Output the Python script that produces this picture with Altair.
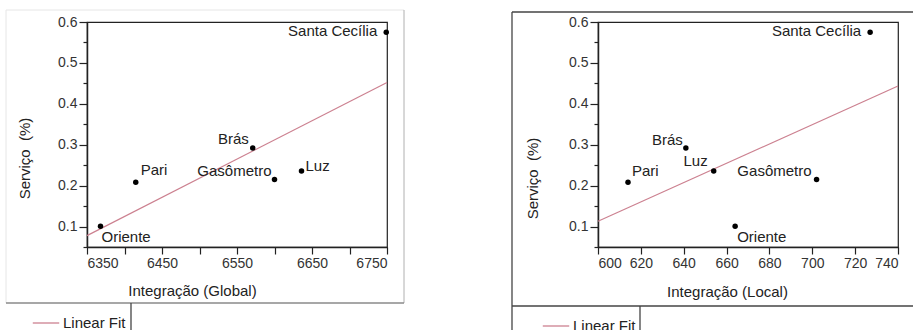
import altair as alt
import pandas as pd

# ---------------- data ----------------
locations = ["Santa Cecília", "Brás", "Pari", "Gasômetro", "Luz", "Oriente"]
servico = [0.575, 0.292, 0.208, 0.215, 0.236, 0.101]
integ_global = [6749, 6571, 6415, 6600, 6636, 6368]
integ_local = [727, 641, 614, 702, 654, 664]

y_tick_values = [0.05, 0.1, 0.15, 0.2, 0.25, 0.3, 0.35, 0.4, 0.45, 0.5, 0.55, 0.6]
x_ticks_global = [6350, 6400, 6450, 6500, 6550, 6600, 6650, 6700, 6750]
x_ticks_local = [600, 620, 640, 660, 680, 700, 720, 740]

df = pd.DataFrame({
    "local": locations,
    "servico": servico,
    "global": integ_global,
    "localint": integ_local,
})

FONT = "Liberation Sans"
TXT = "#222222"
FIT = "#cc8190"

# label placement (style only)
labels_global = {
    "Santa Cecília": ("right", -9, -1),
    "Brás": ("right", -4, -9),
    "Pari": ("left", 5, -12),
    "Gasômetro": ("right", -3, -9),
    "Luz": ("left", 4, -5),
    "Oriente": ("left", 1, 11),
}
labels_local = {
    "Santa Cecília": ("right", -9, -1),
    "Brás": ("right", -3, -8),
    "Pari": ("left", 4, -11),
    "Gasômetro": ("right", -5, -9),
    "Luz": ("right", -6, -10),
    "Oriente": ("left", 2, 11),
}


def frame(x1, x2, y1, y2, color, width=1.0):
    enc = dict(x=alt.value(x1), y=alt.value(y1))
    if x2 is not None:
        enc["x2"] = alt.value(x2)
    if y2 is not None:
        enc["y2"] = alt.value(y2)
    return alt.Chart(alt.Data(values=[{"k": 1}])).mark_rule(
        color=color, strokeWidth=width
    ).encode(**enc)


def panel(xfield, xtitle, xdomain, xvalues, xlabel_expr, labels, xtitle_pos,
          ytitle_pos, legend_pos, frames):
    y_axis = alt.Axis(
        values=y_tick_values,
        labelExpr="abs(datum.value*10 - round(datum.value*10)) < 0.01 ? format(datum.value, '.1f') : ''",
        tickSize={"condition": {"test": "abs(datum.value*10 - round(datum.value*10)) < 0.01", "value": 8}, "value": 4},
        title="Serviço\u00a0\u00a0(%)",
        titleX=ytitle_pos[0], titleY=ytitle_pos[1],
        titleAngle=270, titleAlign="center", titleBaseline="middle",
        grid=False,
    )
    x_axis = alt.Axis(
        values=xvalues,
        format="d",
        labelExpr=xlabel_expr,
        title=xtitle,
        titleX=xtitle_pos[0], titleY=xtitle_pos[1],
        titleAlign="center", titleBaseline="middle",
        tickSize=7, grid=False,
    )
    x = alt.X(f"{xfield}:Q", scale=alt.Scale(domain=xdomain, nice=False, zero=False), axis=x_axis)
    y = alt.Y("servico:Q", scale=alt.Scale(domain=[0.05, 0.6], nice=False, zero=False), axis=y_axis)

    base = alt.Chart(df)
    fit = base.transform_regression(xfield, "servico", extent=xdomain).transform_calculate(
        series="'Linear Fit'"
    ).mark_line(strokeWidth=1.2).encode(
        x=x, y=y,
        color=alt.Color("series:N", scale=alt.Scale(range=[FIT]),
                        legend=alt.Legend(orient="none", legendX=legend_pos[0], legendY=legend_pos[1],
                                          title=None, symbolType="stroke", symbolSize=700,
                                          symbolStrokeWidth=1.3, labelFont=FONT, labelFontSize=15,
                                          labelColor=TXT, labelOffset=3, padding=0)),
    )
    pts = base.mark_circle(size=30, color="black", opacity=1).encode(x=x, y=y)
    layers = [fit, pts]
    for name, (align, dx, dy) in labels.items():
        layers.append(
            base.transform_filter(alt.datum.local == name).mark_text(
                align=align, baseline="middle", dx=dx, dy=dy, font=FONT,
                fontSize=15, color=TXT
            ).encode(x=x, y=y, text="local:N")
        )
    layers += frames
    return alt.layer(*layers).properties(width=300, height=225)


left = panel(
    "global", "Integração (Global)", [6350, 6750], x_ticks_global,
    "datum.value % 100 == 50 ? datum.label : ''",
    labels_global, (105, 43), (-63, 136), (-55, 287),
    [
        frame(-81, 317, -12, None, "#e6e6e6"),
        frame(-81, None, -12, 281, "#e6e6e6"),
        frame(317, None, -12, 281, "#b0b0b0"),
        frame(-81, 317, 281, None, "#8a8a8a", 1.3),
        frame(44, None, 281, 310, "#444444", 1.3),
    ],
)

right = panel(
    "localint", "Integração (Local)", [600, 740], x_ticks_local,
    "datum.label",
    labels_local, (129, 44), (-66, 156), (-56, 290),
    [
        frame(-86, 315, -10, None, "#444444", 1.3),
        frame(-86, None, -10, 310, "#444444", 1.3),
        frame(-86, 315, 284, None, "#444444", 1.3),
        frame(42, None, 284, 310, "#444444", 1.3),
    ],
)

chart = alt.hconcat(left, right, spacing=211, bounds="flush").resolve_scale(
    color="independent", x="independent"
).resolve_legend(color="independent").properties(
    padding={"left": 4, "top": 8, "right": 0, "bottom": 0},
    background="white",
).configure_view(
    stroke="#222222", strokeWidth=1.2
).configure_axis(
    labelFont=FONT, labelFontSize=14, labelColor="#333333",
    titleFont=FONT, titleFontSize=15, titleColor=TXT, titleFontWeight="normal",
    domainColor="#222222", domainWidth=1.5, tickColor="#222222", tickWidth=1.2,
    labelPadding=2,
)

chart.save("out.html", embed_options={"renderer": "svg", "actions": False})
